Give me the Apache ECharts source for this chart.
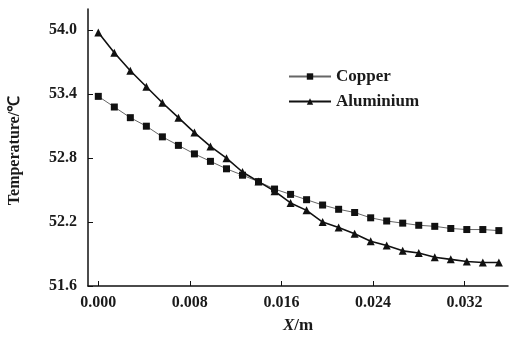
<!DOCTYPE html>
<html>
<head>
<meta charset="utf-8">
<script src="https://cdn.jsdelivr.net/npm/echarts@6/dist/echarts.min.js"></script>
<style>
  html, body { margin: 0; padding: 0; background: #fff; }
  #main { width: 510px; height: 339px; }
</style>
</head>
<body>
<div id="main"></div>
<script>
const xPos = [0, 0.0014, 0.0028, 0.0042, 0.0056, 0.007, 0.0084, 0.0098, 0.0112, 0.0126,
    0.014, 0.0154, 0.0168, 0.0182, 0.0196, 0.021, 0.0224, 0.0238, 0.0252, 0.0266,
    0.028, 0.0294, 0.0308, 0.0322, 0.0336, 0.035]
const copper = [53.38, 53.28, 53.18, 53.10, 53.00, 52.92, 52.84, 52.77, 52.70, 52.64,
    52.58, 52.51, 52.46, 52.41, 52.36, 52.32, 52.29, 52.24, 52.21, 52.19,
    52.17, 52.16, 52.14, 52.13, 52.13, 52.12]
const aluminium = [53.98, 53.79, 53.62, 53.47, 53.32, 53.18, 53.04, 52.91, 52.80, 52.67,
    52.58, 52.49, 52.38, 52.31, 52.20, 52.15, 52.09, 52.02, 51.98, 51.93,
    51.91, 51.87, 51.85, 51.83, 51.82, 51.82]
const xTicks = [0, 0.008, 0.016, 0.024, 0.032]
const yTicks = [51.6, 52.2, 52.8, 53.4, 54.0]

const chart = echarts.init(document.getElementById('main'), null, { renderer: 'canvas' })

const pairs = (ys) => ys.map((y, i) => [xPos[i], y])
const txt = '#1a1a1a'
const font = 'Liberation Serif'

let option = {
    backgroundColor: '#fff',
    animation: false,
    textStyle: { fontFamily: font, color: txt },
    grid: { left: 88, right: 2, top: 9, bottom: 53, outerBoundsMode: 'none' },
    legend: {
        data: ['Copper', 'Aluminium'],
        orient: 'vertical',
        left: 283,
        top: 63,
        itemWidth: 42,
        itemHeight: 8,
        itemGap: 8,
        textStyle: { fontSize: 17, fontWeight: 'bold', color: txt, fontFamily: font }
    },
    xAxis: {
        type: 'value',
        min: -0.0009,
        max: 0.0358,
        name: '{i|X}/m',
        nameLocation: 'middle',
        nameGap: 31,
        nameTextStyle: {
            fontSize: 17,
            fontWeight: 'bold',
            color: txt,
            rich: { i: { fontStyle: 'italic', fontWeight: 'bold', fontSize: 17, fontFamily: font, color: txt } }
        },
        splitLine: { show: false },
        axisLine: { onZero: false, lineStyle: { color: '#111', width: 1.5 } },
        axisTick: { inside: true, length: 5, customValues: xTicks, lineStyle: { color: '#111' } },
        axisLabel: {
            customValues: xTicks,
            fontSize: 16,
            fontWeight: 'bold',
            color: txt,
            margin: 9,
            formatter: v => v.toFixed(3)
        }
    },
    yAxis: {
        type: 'value',
        min: 51.6,
        max: 54.2,
        name: 'Temperature/℃',
        nameLocation: 'middle',
        nameGap: 65,
        nameTextStyle: { fontSize: 16, fontWeight: 'bold', color: txt, padding: [0, 6, 0, 0] },
        splitLine: { show: false },
        axisLine: { onZero: false, lineStyle: { color: '#111', width: 1.5 } },
        axisTick: { inside: true, length: 5, customValues: yTicks, lineStyle: { color: '#111' } },
        axisLabel: {
            customValues: yTicks,
            fontSize: 16,
            fontWeight: 'bold',
            color: txt,
            margin: 11,
            formatter: v => v.toFixed(1)
        }
    },
    series: [
        {
            name: 'Copper',
            type: 'line',
            data: pairs(copper),
            symbol: 'rect',
            symbolSize: 7,
            itemStyle: { color: '#111' },
            lineStyle: { color: '#666', width: 1 }
        },
        {
            name: 'Aluminium',
            type: 'line',
            data: pairs(aluminium),
            symbol: 'triangle',
            symbolSize: 8,
            itemStyle: { color: '#111' },
            lineStyle: { color: '#111', width: 1.6 }
        }
    ]
}

chart.setOption(option)
</script>
</body>
</html>
